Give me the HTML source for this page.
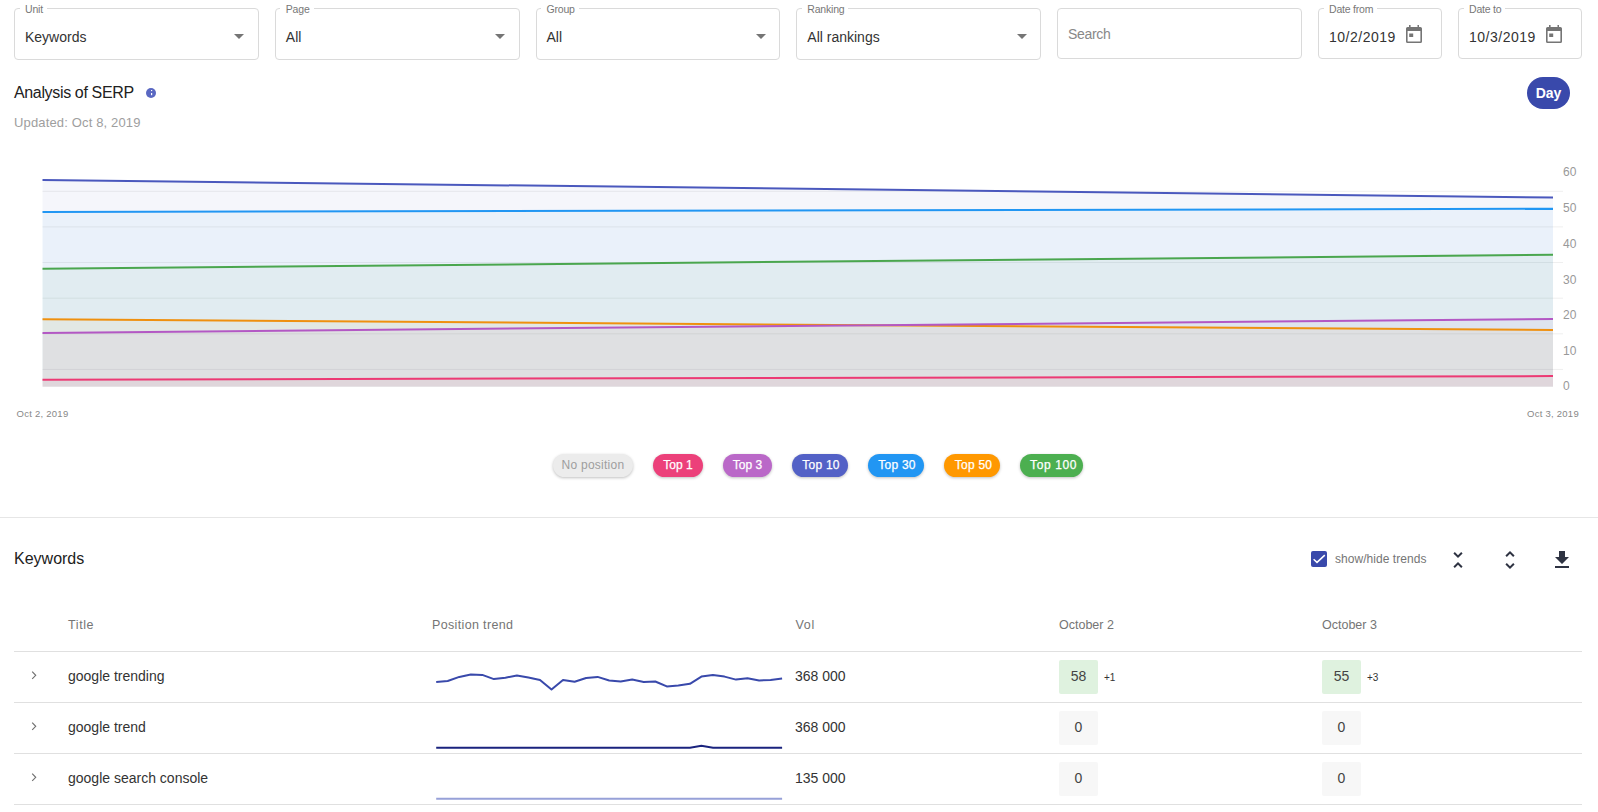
<!DOCTYPE html>
<html><head><meta charset="utf-8">
<style>
*{box-sizing:border-box;margin:0;padding:0}
html,body{width:1598px;height:812px;overflow:hidden;background:#fff}
body{position:relative;font-family:"Liberation Sans",sans-serif;color:#212121}
.a{position:absolute;white-space:nowrap}
.box{position:absolute;top:8px;height:52px;border:1px solid #dadada;border-radius:4px}
.lbl{position:absolute;top:-5px;left:4.5px;padding:0 4px 0 5.5px;background:#fff;font-size:10.5px;line-height:11px;color:#777;letter-spacing:-.2px}
.val{position:absolute;left:10px;top:20px;font-size:14px;line-height:16px;color:#333}
.tri{position:absolute;top:25px;width:0;height:0;border-left:5px solid transparent;border-right:5px solid transparent;border-top:5px solid #757575}
.cal{position:absolute;top:16px}
.pill{position:absolute;top:454px;height:23px;border-radius:12px;font-size:12px;line-height:23px;text-align:center;color:#fff;box-shadow:0 1px 3px rgba(0,0,0,.25);-webkit-text-stroke:.25px #fff}
.th{position:absolute;top:618px;font-size:12.5px;line-height:15px;color:#757575}
.hl{position:absolute;left:14px;width:1568px;height:1px;background:#e0e0e0}
.td{position:absolute;font-size:14px;line-height:16px;color:#333}
.chev{position:absolute;left:31px}
.pos{position:absolute;width:39px;height:34px;font-size:14px;line-height:32px;text-align:center;color:#444;border-radius:2px}
.dlt{position:absolute;font-size:10px;line-height:12px;color:#333}
</style></head><body>

<!-- filters -->
<div class="box" style="left:14px;width:244.8px"><span class="lbl">Unit</span><span class="val">Keywords</span><span class="tri" style="right:14px"></span></div>
<div class="box" style="left:274.8px;width:244.8px"><span class="lbl">Page</span><span class="val">All</span><span class="tri" style="right:14px"></span></div>
<div class="box" style="left:535.5px;width:244.8px"><span class="lbl">Group</span><span class="val">All</span><span class="tri" style="right:13px"></span></div>
<div class="box" style="left:796.3px;width:244.8px"><span class="lbl">Ranking</span><span class="val">All rankings</span><span class="tri" style="right:13px"></span></div>
<div class="box" style="left:1057px;width:244.8px;height:51px"><span class="val" style="top:16.5px;color:#888;letter-spacing:-.3px">Search</span></div>
<div class="box" style="left:1318px;width:124px;height:51px"><span class="lbl">Date from</span><span class="val" style="letter-spacing:.5px">10/2/2019</span>
<svg class="cal" style="left:87px" width="16" height="18" viewBox="0 0 16 18"><path fill="#757575" d="M3 0h1.6v2H3zM11.4 0H13v2h-1.4zM1.6 2h12.8A1.6 1.6 0 0 1 16 3.6v12.8a1.6 1.6 0 0 1-1.6 1.6H1.6A1.6 1.6 0 0 1 0 16.4V3.6A1.6 1.6 0 0 1 1.6 2zM1.6 6v10.4h12.8V6zM3.2 8.4h4v3.6h-4z"/></svg></div>
<div class="box" style="left:1458px;width:124px;height:51px"><span class="lbl">Date to</span><span class="val" style="letter-spacing:.5px">10/3/2019</span>
<svg class="cal" style="left:87px" width="16" height="18" viewBox="0 0 16 18"><path fill="#757575" d="M3 0h1.6v2H3zM11.4 0H13v2h-1.4zM1.6 2h12.8A1.6 1.6 0 0 1 16 3.6v12.8a1.6 1.6 0 0 1-1.6 1.6H1.6A1.6 1.6 0 0 1 0 16.4V3.6A1.6 1.6 0 0 1 1.6 2zM1.6 6v10.4h12.8V6zM3.2 8.4h4v3.6h-4z"/></svg></div>

<!-- header -->
<div class="a" style="left:14px;top:84px;font-size:16px;line-height:18px;color:#212121;letter-spacing:-.35px">Analysis of SERP</div>
<svg class="a" style="left:146px;top:88px" width="10" height="10" viewBox="0 0 10 10"><circle cx="5" cy="5" r="5" fill="#5a68c2"/><rect x="5" y="5" width="1.2" height="2.2" fill="#fff"/><rect x="5" y="2" width="1.2" height="1.1" fill="#fff"/></svg>
<div class="a" style="left:14px;top:115px;font-size:13px;line-height:15px;color:#9e9e9e;letter-spacing:.15px">Updated: Oct 8, 2019</div>
<div class="a" style="left:1527px;top:77px;width:43px;height:32px;border-radius:16px;background:#3949ab;color:#fff;font-weight:bold;font-size:14px;line-height:32px;text-align:center">Day</div>

<!-- chart -->
<svg class="a" style="left:0;top:0" width="1598" height="430" viewBox="0 0 1598 430">
<g stroke="#efefef" stroke-width="1">
<line x1="42.5" y1="191.3" x2="1563" y2="191.3"/><line x1="42.5" y1="226.9" x2="1563" y2="226.9"/><line x1="42.5" y1="262.5" x2="1563" y2="262.5"/><line x1="42.5" y1="298.2" x2="1563" y2="298.2"/><line x1="42.5" y1="333.8" x2="1563" y2="333.8"/><line x1="42.5" y1="369.4" x2="1563" y2="369.4"/>
</g>
<g fill-opacity="0.05">
<path fill="#3f51b5" d="M42.5 179.9L1553 197.6V386.8H42.5z"/>
<path fill="#2196f3" d="M42.5 211.9L1553 208.8V386.8H42.5z"/>
<path fill="#43a047" d="M42.5 268.7L1553 254.8V386.8H42.5z"/>
<path fill="#ff9800" d="M42.5 319.3L1553 330V386.8H42.5z"/>
<path fill="#ab47bc" d="M42.5 332.9L1553 319V386.8H42.5z"/>
<path fill="#e91e63" d="M42.5 379.7L1553 376.1V386.8H42.5z"/>
</g>
<g fill="none" stroke-width="2">
<path stroke="#4a58bd" d="M42.5 179.9L1553 197.6"/>
<path stroke="#2196f3" d="M42.5 211.9L1553 208.8"/>
<path stroke="#4aa64e" d="M42.5 268.7L1553 254.8"/>
<path stroke="#ef900f" d="M42.5 319.3L1553 330"/>
<path stroke="#b358c4" d="M42.5 332.9L1553 319"/>
<path stroke="#ec3a74" d="M42.5 379.7L1553 376.1"/>
</g>
<g font-family="Liberation Sans" font-size="12" fill="#999">
<text x="1563" y="176">60</text><text x="1563" y="212">50</text><text x="1563" y="248">40</text><text x="1563" y="283.5">30</text><text x="1563" y="319">20</text><text x="1563" y="355">10</text><text x="1563" y="390">0</text>
</g>
<g font-family="Liberation Sans" font-size="9.5" fill="#888" text-anchor="middle" letter-spacing=".25">
<text x="42.5" y="417">Oct 2, 2019</text><text x="1553" y="417">Oct 3, 2019</text>
</g>
</svg>

<!-- legend -->
<div class="pill" style="left:553px;width:80px;background:#ececec;color:#9e9e9e;-webkit-text-stroke:0;letter-spacing:.25px">No position</div>
<div class="pill" style="left:653px;width:50px;background:#ec407a">Top 1</div>
<div class="pill" style="left:723px;width:49px;background:#ba68c8">Top 3</div>
<div class="pill" style="left:792px;width:56px;background:#5361c6;letter-spacing:.25px;padding-left:2px">Top 10</div>
<div class="pill" style="left:868px;width:56px;background:#2196f3;letter-spacing:.25px;padding-left:2px">Top 30</div>
<div class="pill" style="left:944px;width:56px;background:#ff9800;letter-spacing:.25px;padding-left:3px">Top 50</div>
<div class="pill" style="left:1020px;width:63px;background:#4caf50;letter-spacing:.6px;padding-left:4px">Top 100</div>

<div class="a" style="left:0;top:517px;width:1598px;height:1px;background:#e6e6e6"></div>

<!-- keywords -->
<div class="a" style="left:14px;top:550px;font-size:16px;line-height:18px;color:#212121">Keywords</div>
<div class="a" style="left:1311px;top:551px;width:16px;height:16px;border-radius:2px;background:#3949ab">
<svg width="16" height="16" viewBox="0 0 16 16"><path d="M2.6 8.2L6 11.4L13.8 4.1" fill="none" stroke="#fff" stroke-width="1.5"/></svg></div>
<div class="a" style="left:1335px;top:552px;font-size:12px;line-height:14px;color:#757575;letter-spacing:.05px">show/hide trends</div>
<svg class="a" style="left:1446px;top:548px" width="24" height="24" viewBox="0 0 24 24"><path fill="#2e3342" d="M7.41 18.59L8.83 20 12 16.83 15.17 20l1.41-1.41L12 14l-4.59 4.59zm9.18-13.18L15.17 4 12 7.17 8.83 4 7.41 5.41 12 10l4.59-4.59z"/></svg>
<svg class="a" style="left:1498px;top:548px" width="24" height="24" viewBox="0 0 24 24"><path fill="#2e3342" d="M12 5.83L15.17 9l1.41-1.41L12 3 7.41 7.59 8.83 9 12 5.83zm0 12.34L8.83 15l-1.41 1.41L12 21l4.59-4.59L15.17 15 12 18.17z"/></svg>
<svg class="a" style="left:1550px;top:548px" width="24" height="24" viewBox="0 0 24 24"><path fill="#2e3342" d="M19 9h-4V3H9v6H5l7 7 7-7zM5 18v2h14v-2H5z"/></svg>

<!-- table -->
<div class="th" style="left:68px;letter-spacing:.6px">Title</div>
<div class="th" style="left:432px;letter-spacing:.35px">Position trend</div>
<div class="th" style="left:795.5px;letter-spacing:.7px">Vol</div>
<div class="th" style="left:1059px">October 2</div>
<div class="th" style="left:1322px">October 3</div>
<div class="hl" style="top:651px"></div>
<div class="hl" style="top:702px"></div>
<div class="hl" style="top:753px"></div>
<div class="hl" style="top:804px"></div>

<!-- row 1 -->
<svg class="chev" style="top:671px" width="7" height="9" viewBox="0 0 7 9"><path d="M1.2 .6L4.7 4.3L1.2 7.9" fill="none" stroke="#707070" stroke-width="1.15"/></svg>
<div class="td" style="left:68px;top:668px">google trending</div>
<svg class="a" style="left:0;top:0" width="800" height="812"><polyline fill="none" stroke="#3949ab" stroke-width="2" stroke-linejoin="round" points="436.2,682 447.7,681 459.3,676.9 470.8,674.4 482.3,674.9 493.9,679.1 505.4,677.8 516.9,675.4 528.4,677.5 540,679.9 551.5,689.5 563,680 574.6,681.7 586.1,678 597.6,676.9 609.2,680.5 620.7,681.6 632.2,679.6 643.7,681.9 655.3,681.5 666.8,686.4 678.3,685.6 689.9,683.8 701.4,676.6 712.9,675 724.5,676.6 736,679.6 747.5,678.2 759.1,680.5 770.6,679.9 782.1,678.5"/>
<polyline fill="none" stroke="#1a237e" stroke-width="2" points="436.2,747.7 690,747.7 701.4,745.8 713,747.7 782.1,747.7"/>
<polyline fill="none" stroke="#97a1d8" stroke-width="2" points="436.2,798.8 782.1,798.8"/>
</svg>
<div class="td" style="left:795px;top:668px">368 000</div>
<div class="pos" style="left:1059px;top:660px;background:#dff2df">58</div><div class="dlt" style="left:1104px;top:672px">+1</div>
<div class="pos" style="left:1322px;top:660px;background:#dff2df">55</div><div class="dlt" style="left:1367px;top:672px">+3</div>

<!-- row 2 -->
<svg class="chev" style="top:722px" width="7" height="9" viewBox="0 0 7 9"><path d="M1.2 .6L4.7 4.3L1.2 7.9" fill="none" stroke="#707070" stroke-width="1.15"/></svg>
<div class="td" style="left:68px;top:719px">google trend</div>
<div class="td" style="left:795px;top:719px">368 000</div>
<div class="pos" style="left:1059px;top:711px;background:#f7f7f7">0</div>
<div class="pos" style="left:1322px;top:711px;background:#f7f7f7">0</div>

<!-- row 3 -->
<svg class="chev" style="top:773px" width="7" height="9" viewBox="0 0 7 9"><path d="M1.2 .6L4.7 4.3L1.2 7.9" fill="none" stroke="#707070" stroke-width="1.15"/></svg>
<div class="td" style="left:68px;top:770px">google search console</div>
<div class="td" style="left:795px;top:770px">135 000</div>
<div class="pos" style="left:1059px;top:762px;background:#f7f7f7">0</div>
<div class="pos" style="left:1322px;top:762px;background:#f7f7f7">0</div>

</body></html>
